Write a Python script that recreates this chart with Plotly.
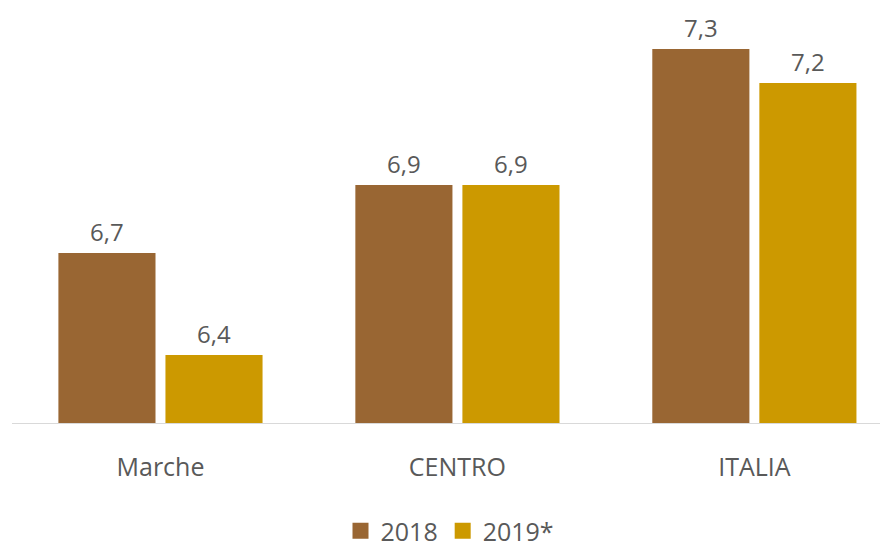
import plotly.graph_objects as go

categories = ["Marche", "CENTRO", "ITALIA"]
series_names = ["2018", "2019*"]
values_2018 = [6.7, 6.9, 7.3]
values_2019 = [6.4, 6.9, 7.2]
colors = ["#996633", "#CC9900"]

FONT = "Open Sans, Liberation Sans, sans-serif"
TXT = "#595959"

fig = go.Figure()
for name, vals, col in zip(series_names, [values_2018, values_2019], colors):
    fig.add_trace(go.Bar(x=categories, y=vals, name=name, marker_color=col,
                         marker_line_width=0, showlegend=False))
# legend entries
for name, col in zip(series_names, colors):
    fig.add_trace(go.Scatter(x=[None], y=[None], mode="markers", name=name,
                             marker=dict(symbol="square", size=16, color=col),
                             showlegend=True))

shifts = [-53.5, 53.5]
for vals, xs in zip([values_2018, values_2019], shifts):
    for c, v in zip(categories, vals):
        fig.add_annotation(x=c, y=v, text=f"{v:.1f}".replace(".", ","),
                           showarrow=False, xshift=xs, yshift=22,
                           font=dict(size=24, color=TXT, family=FONT))

fig.update_layout(
    width=880, height=546,
    margin=dict(l=4, r=0, t=7, b=131),
    paper_bgcolor="white", plot_bgcolor="white",
    barmode="group", bargap=0.279, bargroupgap=0.093,
    font=dict(family=FONT, color=TXT, size=25),
    showlegend=True,
    legend=dict(orientation="h", x=0.5, xanchor="center", xref="paper",
                y=0.0, yanchor="bottom", yref="container",
                font=dict(size=25, color=TXT), itemwidth=30, traceorder="normal"),
    xaxis=dict(range=[-0.5, 2.45], showline=True, linecolor="#d9d9d9", linewidth=1,
               ticks="outside", ticklen=22, tickcolor="rgba(0,0,0,0)",
               showgrid=False, zeroline=False, tickfont=dict(size=25, color=TXT)),
    yaxis=dict(range=[6.2, 7.4], visible=False, showgrid=False),
)

fig.write_html("out.html")
